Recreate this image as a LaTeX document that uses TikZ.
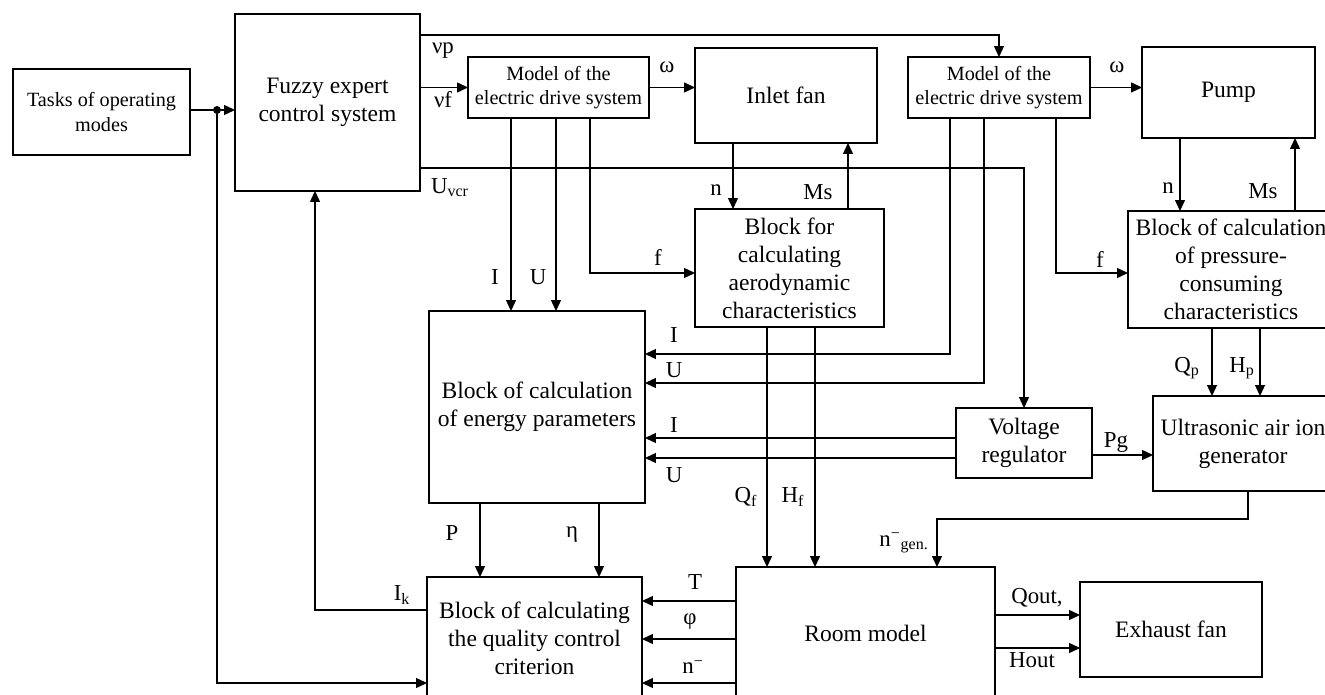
\documentclass[tikz,border=0pt]{standalone}
\usepackage{fontspec}
\setmainfont{Liberation Serif}
\usepackage{tikz}
\usetikzlibrary{arrows.meta,positioning}

\begin{document}
\begin{tikzpicture}[
  x=0.02cm, y=-0.02cm,
  block/.style={draw, line width=0.8pt, align=center, inner sep=0pt, outer sep=0pt, font=\fontsize{13.4}{16}\selectfont},
  small/.style={block, font=\fontsize{11.5}{13.8}\selectfont},
  arrow/.style={-{Triangle[length=2.2mm,width=2mm]}, line width=0.75pt},
  wire/.style={line width=0.75pt},
  lbl/.style={inner sep=0pt, font=\fontsize{13}{15}\selectfont},
  dot/.style={circle, fill, inner sep=0pt, minimum size=1.6mm}
]
\useasboundingbox (0,0) rectangle (1325,695);

% blocks
\node[small, minimum width=3.54cm, minimum height=1.72cm] (tasks) at (101.5,112) {Tasks of operating\\modes};
\node[block, minimum width=3.7cm, minimum height=3.54cm] (fuzzy) at (327.5,102.5) {Fuzzy expert\\control system};
\node[small, minimum width=3.62cm, minimum height=1.22cm] (ed1) at (558.5,87.5) {Model of the\\electric drive system};
\node[block, minimum width=3.64cm, minimum height=1.9cm] (inlet) at (786,95.5) {Inlet fan};
\node[small, minimum width=3.64cm, minimum height=1.22cm] (ed2) at (999,87.5) {Model of the\\electric drive system};
\node[block, minimum width=3.46cm, minimum height=1.82cm] (pump) at (1228.5,92.5) {Pump};
\node[block, minimum width=3.78cm, minimum height=2.36cm] (aero) at (789.5,268) {Block for\\calculating\\aerodynamic\\characteristics};
\node[block, minimum width=4.12cm, minimum height=2.34cm] (press) at (1231,269.5) {Block of calculation\\of pressure-\\consuming\\characteristics};
\node[block, minimum width=4.32cm, minimum height=3.84cm] (energy) at (537,407) {Block of calculation\\of energy parameters};
\node[block, minimum width=2.72cm, minimum height=1.4cm] (volt) at (1024,443) {Voltage\\regulator};
\node[block, minimum width=3.6cm, minimum height=1.9cm] (ultra) at (1243,443.5) {Ultrasonic air ion\\generator};
\node[block, minimum width=4.3cm, minimum height=2.44cm] (quality) at (534.5,638) {Block of calculating\\the quality control\\criterion};
\node[block, minimum width=5.18cm, minimum height=2.64cm] (room) at (865.5,633) {Room model};
\node[block, minimum width=3.64cm, minimum height=1.9cm] (exhaust) at (1171,629.5) {Exhaust fan};
\node[dot] (jn) at (217,110) {};

% connectors
\draw[wire] (tasks.east |- jn) -- (jn);
\draw[arrow] (jn) -- (fuzzy.west |- jn);
\draw[arrow] (jn) |- (quality.west |- 0,683);
\draw[arrow] (quality.west |- 0,610) -| (fuzzy.south -| 315,0);
\draw[arrow] (fuzzy.east |- 0,35) -| (ed2.north);
\draw[arrow] (fuzzy.east |- ed1.west) -- (ed1.west);
\draw[arrow] (fuzzy.east |- 0,168) -| (volt.north);
\draw[arrow] (ed1.east) -- (inlet.west |- ed1.east);
\draw[arrow] (ed2.east) -- (pump.west |- ed2.east);
\draw[arrow] (inlet.south -| 733,0) -- (aero.north -| 733,0);
\draw[arrow] (aero.north -| 848,0) -- (inlet.south -| 848,0);
\draw[arrow] (pump.south -| 1180,0) -- (press.north -| 1180,0);
\draw[arrow] (press.north -| 1295,0) -- (pump.south -| 1295,0);
\foreach \x in {511,556}{\draw[arrow] (ed1.south -| \x,0) -- (energy.north -| \x,0);}
\draw[arrow] (ed1.south -| 590,0) |- (aero.west |- 0,273);
\draw[arrow] (ed2.south -| 950,0) |- (energy.east |- 0,354);
\draw[arrow] (ed2.south -| 984,0) |- (energy.east |- 0,383);
\draw[arrow] (ed2.south -| 1056,0) |- (press.west |- 0,273);
\foreach \y in {438,458}{\draw[arrow] (volt.west |- 0,\y) -- (energy.east |- 0,\y);}
\draw[arrow] (volt.east |- 0,455) -- (ultra.west |- 0,455);
\foreach \x in {1212,1260}{\draw[arrow] (press.south -| \x,0) -- (ultra.north -| \x,0);}
\foreach \x in {767,815}{\draw[arrow] (aero.south -| \x,0) -- (room.north -| \x,0);}
\draw[arrow] (ultra.south -| 1248,0) -- ++(0,28) -| (room.north -| 937,0);
\foreach \x in {480,599}{\draw[arrow] (energy.south -| \x,0) -- (quality.north -| \x,0);}
\foreach \y in {601,639,683}{\draw[arrow] (room.west |- 0,\y) -- (quality.east |- 0,\y);}
\foreach \y in {615,648}{\draw[arrow] (room.east |- 0,\y) -- (exhaust.west |- 0,\y);}

% labels
\node[lbl] (lnup) at (443,51) {νp};
\node[lbl] (lnuf) at (443,100) {νf};
\node[lbl] (luvcr) at (450,188) {U\textsubscript{vcr}};
\node[lbl] (lw1) at (667,67) {ω};
\node[lbl] (lw2) at (1117,67) {ω};
\node[lbl] (ln1) at (716,190) {n};
\node[lbl] (lms1) at (818,192) {Ms};
\node[lbl] (ln2) at (1168,188) {n};
\node[lbl] (lms2) at (1263,191) {Ms};
\node[lbl] (li1) at (495,277) {I};
\node[lbl] (lu1) at (538,277) {U};
\node[lbl] (lf1) at (658,257) {f};
\node[lbl] (lf2) at (1100,259) {f};
\node[lbl] (li2) at (674,335) {I};
\node[lbl] (lu2) at (674,370) {U};
\node[lbl] (li3) at (674,425) {I};
\node[lbl] (lu3) at (674,475) {U};
\node[lbl] (lpg) at (1116,442) {Pg};
\node[lbl] (lqp) at (1187,368) {Q\textsubscript{p}};
\node[lbl] (lhp) at (1242,368) {H\textsubscript{p}};
\node[lbl] (lqf) at (746,497) {Q\textsubscript{f}};
\node[lbl] (lhf) at (793,497) {H\textsubscript{f}};
\node[lbl, anchor=east] (lngen) at (929,543) {n\textsuperscript{−}\textsubscript{gen.}};
\node[lbl] (lp) at (452,533) {P};
\node[lbl] (leta) at (572,535) {η};
\node[lbl] (lik) at (402,595) {I\textsubscript{k}};
\node[lbl] (lt) at (695,582) {T};
\node[lbl] (lphi) at (690,622) {φ};
\node[lbl] (lnm) at (693,667) {n\textsuperscript{−}};
\node[lbl] (lqout) at (1037,598) {Qout,};
\node[lbl] (lhout) at (1032,660) {Hout};
\end{tikzpicture}
\end{document}
